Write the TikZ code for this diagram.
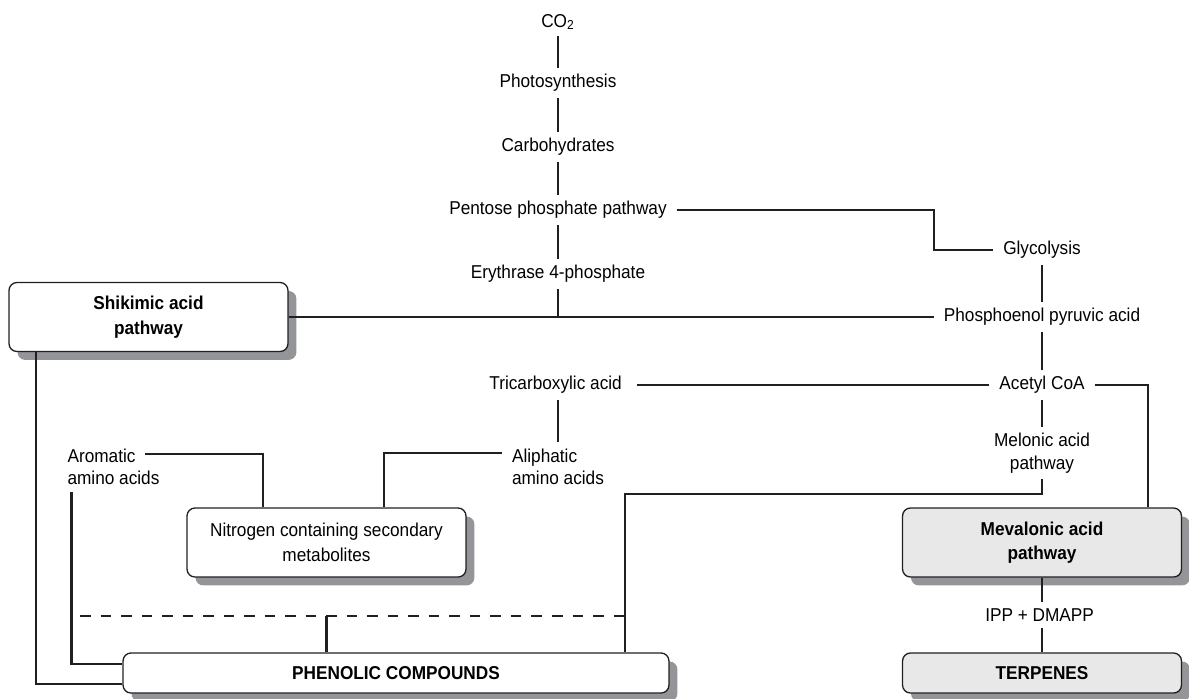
\documentclass[tikz,border=0pt]{standalone}
\usepackage{fontspec}
\setmainfont[FakeStretch=0.925]{Liberation Sans}
\usepackage{xcolor}
\definecolor{inkblack}{HTML}{231F20}
\definecolor{shadowgray}{HTML}{939598}
\definecolor{boxgray}{HTML}{E8E8E8}
\usepackage{tikz}
\usetikzlibrary{positioning,shadows}

\tikzset{
  stage/.style={font=\fontsize{10.6}{12.8}\selectfont, inner xsep=5.5pt, inner ysep=3.5pt, align=center},
  pathbox/.style={draw=inkblack, line width=0.75pt, rounded corners=4.5pt, fill=white,
    minimum width=5.58cm, minimum height=1.38cm, align=center, inner sep=2pt,
    font=\fontsize{10.6}{14}\selectfont,
    drop shadow={shadow xshift=4.8pt, shadow yshift=-4.8pt, fill=shadowgray, opacity=1}},
  keybox/.style={pathbox, font=\fontsize{10.6}{14}\selectfont\bfseries},
  greybox/.style={keybox, fill=boxgray},
  link/.style={draw=inkblack, line width=1.2pt}
}

\begin{document}
\begin{tikzpicture}[x=0.02cm, y=-0.02cm]
  \useasboundingbox (0,0) rectangle (1189,698);

  \foreach \name/\y/\txt in {
    co2/22/{CO\textsubscript{2}},
    photo/83/{Photosynthesis},
    carbo/147/{Carbohydrates},
    pentose/210/{Pentose phosphate pathway},
    erythrase/274/{Erythrase 4-phosphate},
    tca/385/{Tricarboxylic acid}
  }{
    \node[stage] (\name) at (558,\y) {\txt};
  }

  \foreach \name/\y/\txt in {
    glyco/250/{Glycolysis},
    pep/317/{Phosphoenol pyruvic acid},
    acetyl/385/{Acetyl CoA},
    melonic/453/{Melonic acid\\pathway},
    ipp/615/{IPP + DMAPP}
  }{
    \node[stage] (\name) at (1042,\y) {\txt};
  }

  \node[stage, align=left] (aromatic)  at (113.5,467) {Aromatic\\amino acids};
  \node[stage, align=left] (aliphatic) at (558,467)   {Aliphatic\\amino acids};

  \node[keybox]  (shikimic)  at (148.5,317) {Shikimic acid\\pathway};
  \node[pathbox] (nitrogen)  at (326.5,542.5) {Nitrogen containing secondary\\metabolites};
  \node[greybox] (mevalonic) at (1042,542.5) {Mevalonic acid\\pathway};
  \node[keybox, minimum width=10.92cm, minimum height=0.8cm] (phenolic) at (396,673) {PHENOLIC COMPOUNDS};
  \node[greybox, minimum height=0.8cm] (terpenes) at (1042,673) {TERPENES};

  \coordinate (glycobend) at (934,230);
  \coordinate (dashstart) at (80,616);
  \coordinate (phenoljoin) at ([xshift=-0.9cm]phenolic.north east);

  \foreach \a/\b in {co2/photo, photo/carbo, carbo/pentose, pentose/erythrase,
                     glyco/pep, pep/acetyl, acetyl/melonic, tca/aliphatic,
                     mevalonic/ipp, ipp/terpenes, shikimic/pep, tca/acetyl}
    \draw[link] (\a) -- (\b);

  \draw[link] (erythrase) -- (erythrase |- pep);
  \draw[link] (pentose.east) -| (glycobend) |- (glyco.west);
  \draw[link] (acetyl.east) -| ([xshift=-0.68cm]mevalonic.north east);
  \draw[link] ([xshift=-0.48cm,yshift=0.26cm]aromatic.east) -| ([xshift=-1.27cm]nitrogen.north);
  \draw[link] ([yshift=0.28cm]aliphatic.west) -| ([xshift=1.15cm]nitrogen.north);
  \draw[link] ([xshift=0.28cm]aromatic.south west) |- ([yshift=0.18cm]phenolic.west);
  \draw[link] ([xshift=0.56cm]shikimic.south west) |- ([yshift=-0.22cm]phenolic.west);
  \draw[link] (melonic.south) -- ++(0,15) -| (phenoljoin);
  \draw[link, dash pattern=on 6pt off 5.68pt] (dashstart) -- (dashstart -| phenoljoin);
  \draw[link] (nitrogen.south |- dashstart) -- (nitrogen.south |- phenolic.north);
\end{tikzpicture}
\end{document}
